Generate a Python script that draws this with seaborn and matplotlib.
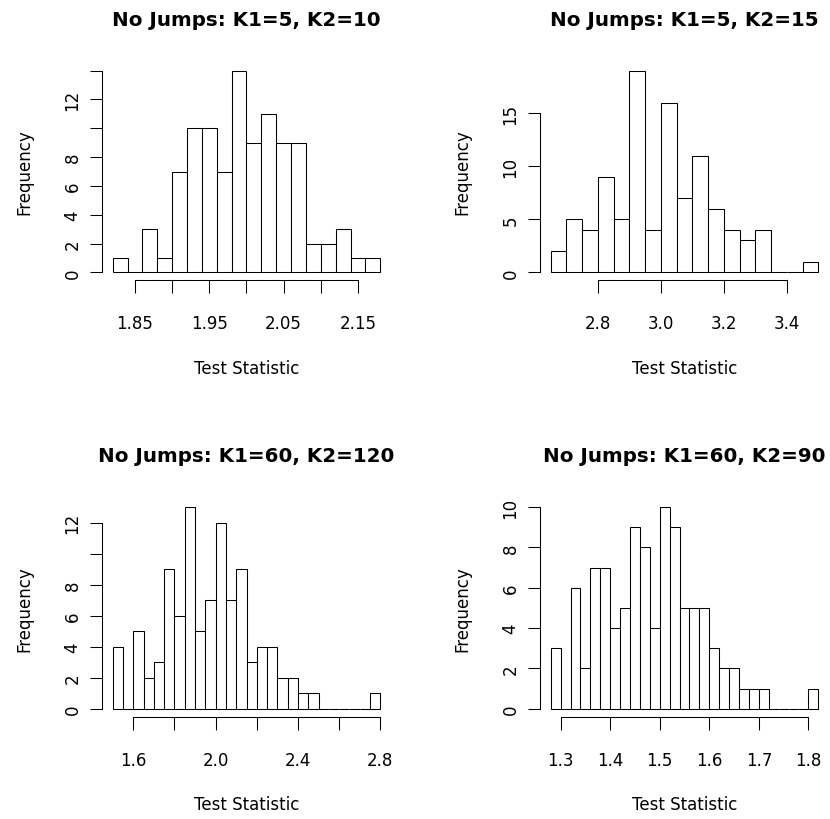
import numpy as np
import pandas as pd
import matplotlib
matplotlib.use("Agg")
import matplotlib.pyplot as plt
import seaborn as sns

# ---------------- data ----------------
titles = ["No Jumps: K1=5, K2=10", "No Jumps: K1=5, K2=15",
          "No Jumps: K1=60, K2=120", "No Jumps: K1=60, K2=90"]

p1_start, p1_width = 1.82, 0.02
p1_counts = [1, 0, 3, 1, 7, 10, 10, 7, 14, 9, 11, 9, 9, 2, 2, 3, 1, 1]
p1_xticks = [1.85, 1.90, 1.95, 2.00, 2.05, 2.10, 2.15]
p1_xticklabels = ["1.85", "", "1.95", "", "2.05", "", "2.15"]
p1_yticks = [0, 2, 4, 6, 8, 10, 12, 14]
p1_yticklabels = ["0", "2", "4", "6", "8", "", "12", ""]

p2_start, p2_width = 2.65, 0.05
p2_counts = [2, 5, 4, 9, 5, 19, 4, 16, 7, 11, 6, 4, 3, 4, 0, 0, 1]
p2_xticks = [2.8, 3.0, 3.2, 3.4]
p2_xticklabels = ["2.8", "3.0", "3.2", "3.4"]
p2_yticks = [0, 5, 10, 15]
p2_yticklabels = ["0", "5", "10", "15"]

p3_start, p3_width = 1.50, 0.05
p3_counts = [4, 0, 5, 2, 3, 9, 6, 13, 5, 7, 12, 7, 9, 3, 4, 4, 2, 2, 1, 1,
             0, 0, 0, 0, 0, 1]
p3_xticks = [1.6, 1.8, 2.0, 2.2, 2.4, 2.6, 2.8]
p3_xticklabels = ["1.6", "", "2.0", "", "2.4", "", "2.8"]
p3_yticks = [0, 2, 4, 6, 8, 10, 12]
p3_yticklabels = ["0", "2", "4", "6", "8", "", "12"]

p4_start, p4_width = 1.28, 0.02
p4_counts = [3, 0, 6, 2, 7, 7, 4, 5, 9, 8, 4, 10, 9, 5, 5, 5, 3, 2, 2, 1, 1, 1,
             0, 0, 0, 0, 1]
p4_xticks = [1.3, 1.4, 1.5, 1.6, 1.7, 1.8]
p4_xticklabels = ["1.3", "1.4", "1.5", "1.6", "1.7", "1.8"]
p4_yticks = [0, 2, 4, 6, 8, 10]
p4_yticklabels = ["0", "2", "4", "6", "8", "10"]

xlabel = "Test Statistic"
ylabel = "Frequency"

panels = [
    (p1_start, p1_width, p1_counts, p1_xticks, p1_xticklabels, p1_yticks, p1_yticklabels),
    (p2_start, p2_width, p2_counts, p2_xticks, p2_xticklabels, p2_yticks, p2_yticklabels),
    (p3_start, p3_width, p3_counts, p3_xticks, p3_xticklabels, p3_yticks, p3_yticklabels),
    (p4_start, p4_width, p4_counts, p4_xticks, p4_xticklabels, p4_yticks, p4_yticklabels),
]

# ---------------- style ----------------
sns.set_style("white")
plt.rcParams['font.family'] = ['DejaVu Sans']
plt.rcParams['text.color'] = 'black'
plt.rcParams['axes.labelcolor'] = 'black'

W, H = 830, 820
fig = plt.figure(figsize=(W / 100, H / 100), dpi=100)
fig.patch.set_facecolor('white')

# plot regions in pixels
col_left = [102, 540]
row_top = [63.6, 500.0]
pw, ph = 289, 217.8

lw = 0.75
for i, (start, width, counts, xt, xtl, yt, ytl) in enumerate(panels):
    r, c = divmod(i, 2)
    l = col_left[c] / W
    b = 1 - (row_top[r] + ph) / H
    ax = fig.add_axes([l, b, pw / W, ph / H])

    n = len(counts)
    edges = [round(start + width * k, 6) for k in range(n + 1)]
    mids = [(edges[k] + edges[k + 1]) / 2 for k in range(n)]
    df = pd.DataFrame({"x": mids, "count": counts})
    sns.histplot(data=df, x="x", weights="count", bins=edges, ax=ax,
                 color="white", edgecolor="black", linewidth=lw, alpha=1,
                 stat="count")

    rng = edges[-1] - edges[0]
    ax.set_xlim(edges[0] - 0.04 * rng, edges[-1] + 0.04 * rng)
    ymax = max(counts)
    ax.set_ylim(-0.04 * ymax, 1.04 * ymax)

    ax.set_xticks(xt)
    ax.set_xticklabels(xtl)
    ax.set_yticks(yt)
    ax.set_yticklabels(ytl, rotation=90, va='center')

    for s in ['top', 'right']:
        ax.spines[s].set_visible(False)
    ax.spines['left'].set_bounds(yt[0], yt[-1])
    ax.spines['bottom'].set_bounds(xt[0], xt[-1])
    for s in ['left', 'bottom']:
        ax.spines[s].set_linewidth(lw)
        ax.spines[s].set_color('black')

    ax.tick_params(axis='x', direction='out', length=9, width=lw, colors='black',
                   labelsize=12, pad=15.5, bottom=True)
    ax.tick_params(axis='y', direction='out', length=8.5, width=lw, colors='black',
                   labelsize=12, pad=6.2, left=True)

    ax.set_xlabel(xlabel, fontsize=12)
    ax.set_ylabel(ylabel, fontsize=12)
    ax.xaxis.set_label_coords(0.5, -(359.5 - 281.4) / ph)
    ax.yaxis.set_label_coords((33 - 102) / pw, 0.5)

    ax.text(0.5, 1 + (63.6 - 26) / ph, titles[i], transform=ax.transAxes,
            ha='center', va='baseline', fontsize=14.3, fontweight='bold')
    ax.set_facecolor('white')
    ax.grid(False)

fig.savefig("out.png", dpi=100, facecolor='white')
